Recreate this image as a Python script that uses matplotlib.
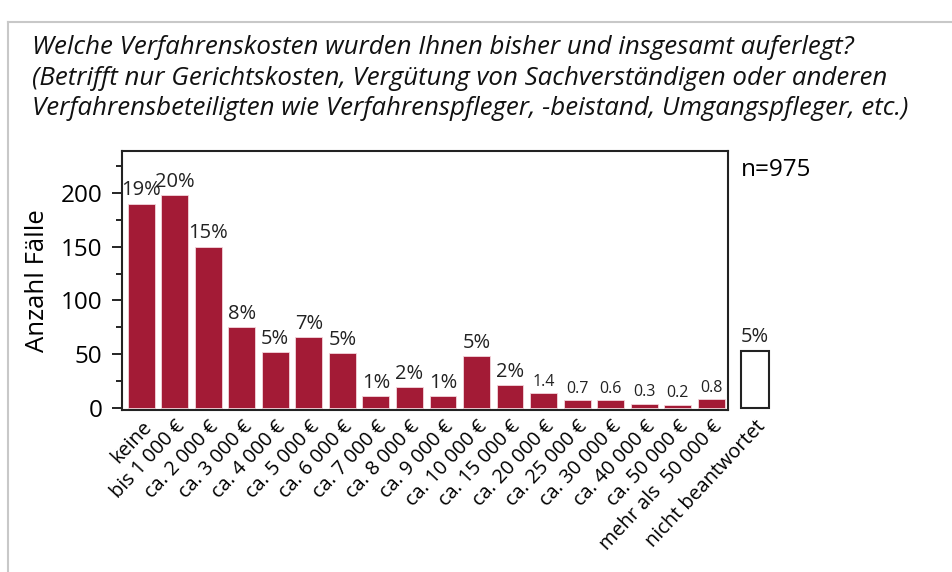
import numpy as np
import matplotlib.pyplot as plt
from matplotlib.lines import Line2D

categories = ["keine", "bis 1 000 €", "ca. 2 000 €", "ca. 3 000 €", "ca. 4 000 €",
              "ca. 5 000 €", "ca. 6 000 €", "ca. 7 000 €", "ca. 8 000 €", "ca. 9 000 €",
              "ca. 10 000 €", "ca. 15 000 €", "ca. 20 000 €", "ca. 25 000 €",
              "ca. 30 000 €", "ca. 40 000 €", "ca. 50 000 €", "mehr als  50 000 €"]
counts = [190, 198, 150, 75, 52, 66, 51, 11, 19, 11, 48, 21, 14, 7, 7, 4, 3, 8]
labels = ["19%", "20%", "15%", "8%", "5%", "7%", "5%", "1%", "2%", "1%", "5%", "2%",
          "1.4", "0.7", "0.6", "0.3", "0.2", "0.8"]
missing_label = "nicht beantwortet"
missing_count = 53
missing_pct = "5%"
n_total = 975

title = ("Welche Verfahrenskosten wurden Ihnen bisher und insgesamt auferlegt?\n"
         "(Betrifft nur Gerichtskosten, Vergütung von Sachverständigen oder anderen\n"
         "Verfahrensbeteiligten wie Verfahrenspfleger, -beistand, Umgangspfleger, etc.)")

bar_color = "#A31B36"
plt.rcParams['font.family'] = ['Open Sans', 'DejaVu Sans']

fig = plt.figure(figsize=(9.53, 5.72), dpi=100)

# outer frame lines (cropped slide)
fig.add_artist(Line2D([8/953, 1], [1 - 22/572] * 2, color="#c8c8c8", lw=1.5))
fig.add_artist(Line2D([8/953] * 2, [0, 1 - 22/572], color="#c8c8c8", lw=1.5))

fig.text(32/953, 1 - 35/572, title, ha="left", va="top", fontsize=18.6,
         style="italic", linespacing=1.29, color="#111111")

ax = fig.add_axes([122/953, 1 - 410/572, 606/953, 259/572])
x = np.arange(len(counts))
bars = ax.bar(x, counts, width=0.8, color=bar_color, edgecolor="#f3d6dc", linewidth=0.6)
for xi, c, lab in zip(x, counts, labels):
    small = "%" not in lab
    ax.text(xi, c + 3, lab, ha="center", va="bottom",
            fontsize=11.5 if small else 14.5, color="#222222")

ax.set_xlim(-0.57, 17.5)
ax.set_ylim(-2, 239)
ax.set_yticks([0, 50, 100, 150, 200])
ax.set_yticks([25, 75, 125, 175, 225], minor=True)
ax.tick_params(axis="y", which="major", length=7, width=1.2, labelsize=17.5, pad=7)
ax.tick_params(axis="y", which="minor", length=4, width=1.2)
ax.set_xticks(x)
ax.set_xticklabels(categories, rotation=47, ha="right", rotation_mode="anchor", fontsize=14.3)
ax.tick_params(axis="x", length=0, pad=5)
for s in ax.spines.values():
    s.set_linewidth(1.5)
    s.set_color("#222222")
ax.set_ylabel("Anzahl Fälle", fontsize=18.5, labelpad=8)

# separate bar for missing answers
ax2 = fig.add_axes([(755 - 17) / 953, 1 - 410/572, 34/953, 259/572])
ax2.bar([0], [missing_count], width=0.85, color="white", edgecolor="#222222", linewidth=1.5)
ax2.text(0, missing_count + 4, missing_pct, ha="center", va="bottom", fontsize=14.5, color="#222222")
ax2.set_xlim(-0.5, 0.5)
ax2.set_ylim(-2, 239)
ax2.set_xticks([0])
ax2.set_xticklabels([missing_label], rotation=47, ha="right", rotation_mode="anchor", fontsize=14.3)
ax2.tick_params(axis="x", length=0, pad=5)
ax2.set_yticks([])
for s in ax2.spines.values():
    s.set_visible(False)

fig.text(741/953, 1 - 170/572, f"n={n_total}", ha="left", va="center", fontsize=17.5)

fig.savefig("out.png", dpi=100)
